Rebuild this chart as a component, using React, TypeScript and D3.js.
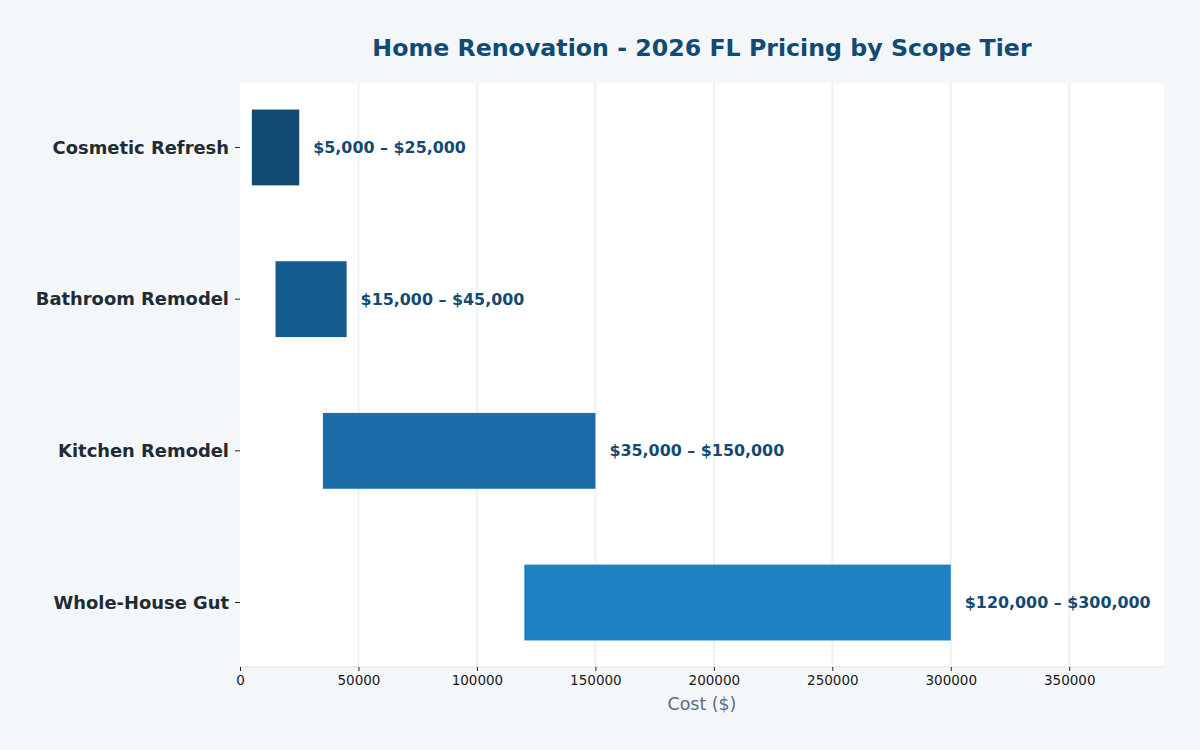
import React, { useEffect, useRef } from 'react';
import * as d3 from 'd3';

const tiers = ['Cosmetic Refresh', 'Bathroom Remodel', 'Kitchen Remodel', 'Whole-House Gut'];
const lowCost = [5000, 15000, 35000, 120000];
const highCost = [25000, 45000, 150000, 300000];
const tierColors = ['#114a73', '#155b8f', '#1b6ca8', '#1f80c2'];
const xTicks = [0, 50000, 100000, 150000, 200000, 250000, 300000, 350000];

const W = 1200;
const H = 750;
const margin = { top: 83, right: 36, bottom: 83, left: 240 };
const FONT = 'DejaVu Sans, sans-serif';

const money = (v: number) => '$' + d3.format(',')(v);

export default function App() {
  const ref = useRef<SVGSVGElement>(null);

  useEffect(() => {
    const svg = d3.select(ref.current);
    svg.selectAll('*').remove();

    svg.append('rect').attr('width', W).attr('height', H).attr('fill', '#f4f7fa');

    const x = d3.scaleLinear().domain([0, 390000]).range([margin.left, W - margin.right]);
    const y = d3.scaleLinear().domain([-0.425, 3.425]).range([margin.top, H - margin.bottom]);
    const bandH = y(0.5) - y(0);

    // plot area
    svg.append('rect')
      .attr('x', x(0)).attr('y', margin.top)
      .attr('width', x(390000) - x(0)).attr('height', H - margin.bottom - margin.top)
      .attr('fill', '#ffffff');

    // vertical grid
    svg.append('g').selectAll('line').data(xTicks.slice(1)).join('line')
      .attr('x1', d => x(d)).attr('x2', d => x(d))
      .attr('y1', margin.top).attr('y2', H - margin.bottom)
      .attr('stroke', '#edf1f5').attr('stroke-width', 2);

    // bottom spine
    svg.append('line')
      .attr('x1', x(0)).attr('x2', x(390000))
      .attr('y1', H - margin.bottom).attr('y2', H - margin.bottom)
      .attr('stroke', '#dde4ec').attr('stroke-width', 1);

    // x axis ticks
    const xa = svg.append('g').attr('transform', `translate(0,${H - margin.bottom})`)
      .call(d3.axisBottom(x).tickValues(xTicks).tickFormat(d3.format('d')).tickSize(4).tickPadding(4));
    xa.select('.domain').remove();
    xa.selectAll('line').attr('stroke', '#222').attr('stroke-width', 1);
    xa.selectAll('text').attr('font-family', FONT).attr('font-size', 13.5).attr('fill', '#1a1a1a');

    // y axis ticks + category labels
    const ya = svg.append('g');
    tiers.forEach((t, i) => {
      ya.append('line')
        .attr('x1', margin.left - 5).attr('x2', margin.left)
        .attr('y1', y(i)).attr('y2', y(i))
        .attr('stroke', '#222');
      ya.append('text')
        .attr('x', margin.left - 11).attr('y', y(i))
        .attr('dy', '0.35em').attr('text-anchor', 'end')
        .attr('font-family', FONT).attr('font-size', 17.9).attr('font-weight', 'bold')
        .attr('fill', '#222b33')
        .text(t);
    });

    // range bars
    svg.append('g').selectAll('rect').data(tiers).join('rect')
      .attr('x', (_, i) => x(lowCost[i]))
      .attr('y', (_, i) => y(i) - bandH / 2)
      .attr('width', (_, i) => x(highCost[i]) - x(lowCost[i]))
      .attr('height', bandH)
      .attr('fill', (_, i) => tierColors[i]);

    // range labels
    svg.append('g').selectAll('text').data(tiers).join('text')
      .attr('x', (_, i) => x(highCost[i]) + 14)
      .attr('y', (_, i) => y(i))
      .attr('dy', '0.35em')
      .attr('font-family', FONT).attr('font-size', 15.9).attr('font-weight', 'bold')
      .attr('fill', '#114a73')
      .text((_, i) => `${money(lowCost[i])} – ${money(highCost[i])}`);

    svg.append('text')
      .attr('x', (x(0) + x(390000)) / 2).attr('y', 56)
      .attr('text-anchor', 'middle')
      .attr('font-family', FONT).attr('font-size', 23.7).attr('font-weight', 'bold')
      .attr('fill', '#114a73')
      .text('Home Renovation - 2026 FL Pricing by Scope Tier');

    svg.append('text')
      .attr('x', (x(0) + x(390000)) / 2).attr('y', 710)
      .attr('text-anchor', 'middle')
      .attr('font-family', FONT).attr('font-size', 17.4)
      .attr('fill', '#5a6b7d')
      .text('Cost ($)');
  }, []);

  return <svg ref={ref} width={W} height={H} style={{ display: 'block', position: 'absolute', left: 0, top: 0 }} />;
}
